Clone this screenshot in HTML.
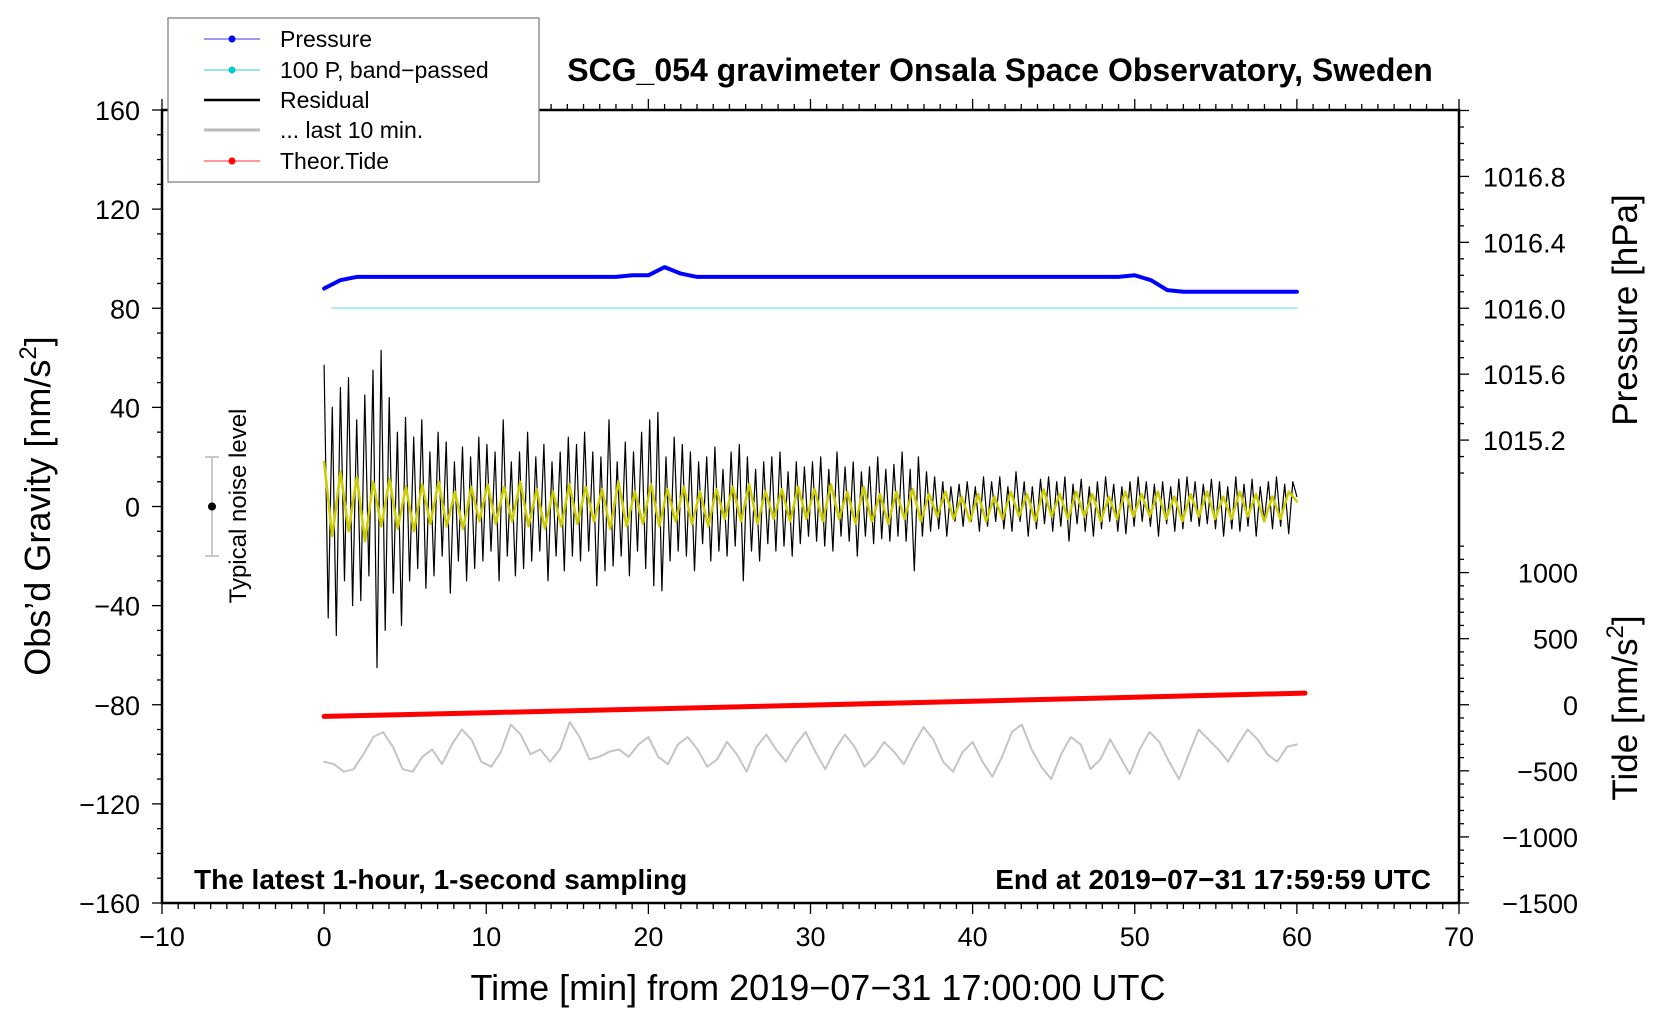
<!DOCTYPE html>
<html><head><meta charset="utf-8"><style>
html,body{margin:0;padding:0;background:#fff;}
svg{display:block;font-family:"Liberation Sans",sans-serif;}
</style></head><body>
<svg id="chart" width="1660" height="1020" viewBox="0 0 1660 1020" xmlns="http://www.w3.org/2000/svg">
<rect width="1660" height="1020" fill="#fff"/>
<g id="plot"></g>
<g id="axes"></g>
<text x="1000" y="81" font-size="32" font-weight="bold" text-anchor="middle">SCG_054 gravimeter Onsala Space Observatory, Sweden</text>
<text x="818" y="1000" font-size="36" text-anchor="middle">Time [min] from 2019−07−31 17:00:00 UTC</text>
<text transform="translate(50,506) rotate(-90)" font-size="36" text-anchor="middle">Obs’d Gravity [nm/s<tspan font-size="24" dy="-14">2</tspan><tspan dy="14">]</tspan></text>
<text transform="translate(1637,310) rotate(-90)" font-size="35" text-anchor="middle">Pressure [hPa]</text>
<text transform="translate(1637,708) rotate(-90)" font-size="35" text-anchor="middle">Tide [nm/s<tspan font-size="24" dy="-14">2</tspan><tspan dy="14">]</tspan></text>
<text x="194" y="889" font-size="28" font-weight="bold">The latest 1-hour, 1-second sampling</text>
<text x="1431" y="889" font-size="28" font-weight="bold" text-anchor="end">End at 2019−07−31 17:59:59 UTC</text>
<g>
<line x1="212" y1="457" x2="212" y2="556" stroke="#c8c8c8" stroke-width="2"/>
<line x1="205" y1="457" x2="219" y2="457" stroke="#c8c8c8" stroke-width="2"/>
<line x1="205" y1="556" x2="219" y2="556" stroke="#c8c8c8" stroke-width="2"/>
<circle cx="212" cy="506.5" r="4" fill="#000"/>
<text transform="translate(246,506) rotate(-90)" font-size="24" text-anchor="middle">Typical noise level</text>
</g>
<g>
<rect x="168" y="18" width="371" height="164" fill="#fff" stroke="#777" stroke-width="1.2"/>
<g><line x1="204" y1="39" x2="260" y2="39" stroke="#33f" stroke-width="1"/><circle cx="232" cy="39" r="3.5" fill="#00f"/><text x="280" y="47" font-size="23">Pressure</text></g>
<g><line x1="204" y1="70" x2="260" y2="70" stroke="#3cc" stroke-width="1"/><circle cx="232" cy="70" r="3.5" fill="#0cc"/><text x="280" y="78" font-size="23">100 P, band−passed</text></g>
<g><line x1="204" y1="100" x2="260" y2="100" stroke="#000" stroke-width="2.5"/><text x="280" y="108" font-size="23">Residual</text></g>
<g><line x1="204" y1="130" x2="260" y2="130" stroke="#bbb" stroke-width="3"/><text x="280" y="138" font-size="23">... last 10 min.</text></g>
<g><line x1="204" y1="161" x2="260" y2="161" stroke="#f33" stroke-width="1"/><circle cx="232" cy="161" r="3.5" fill="#f00"/><text x="280" y="169" font-size="23">Theor.Tide</text></g>
</g>
</svg>
<script>
const residual=[57,-45,40,-52,48,-30,52,-40,35,-38,45,-28,55,-65,63,-50,44,-35,30,-48,
36,-30,28,-25,35,-33,22,-28,30,-20,26,-35,18,-22,24,-30,20,-25,28,-22,
25,-18,22,-30,35,-20,18,-28,22,-25,30,-22,20,-18,25,-30,18,-20,22,-26,
28,-20,25,-22,30,-18,22,-32,20,-26,35,-24,18,-20,26,-28,22,-18,30,-25,
35,-32,38,-34,20,-22,28,-18,25,-20,22,-26,18,-15,20,-22,24,-18,15,-20,
22,-16,25,-30,20,-18,15,-22,18,-15,20,-18,22,-16,14,-20,18,-15,16,-12,
18,-14,20,-16,15,-18,22,-12,16,-14,18,-20,14,-12,16,-15,20,-13,15,-14,
17,-12,22,-14,15,-26,20,-12,14,-10,12,-9,10,-12,8,-6,9,-8,10,-6,
8,-10,12,-8,10,-6,12,-9,8,-10,14,-6,10,-12,8,-9,11,-7,12,-10,
10,-8,12,-14,9,-7,11,-10,8,-12,10,-9,12,-6,9,-10,8,-11,10,-8,
12,-6,10,-8,9,-12,10,-7,8,-10,11,-9,12,-6,10,-8,9,-7,11,-9,
10,-12,8,-9,12,-10,9,-8,11,-12,8,-6,10,-9,12,-8,9,-11,10,4];
const filtered=[18,-12,14,-10,12,-14,10,-8,11,-9,8,-10,9,-7,10,-8,6,-9,8,-6,
9,-7,8,-6,10,-8,7,-9,6,-8,9,-7,8,-6,7,-9,10,-8,6,-7,
9,-8,7,-6,8,-7,6,-8,7,-5,8,-6,9,-7,6,-5,7,-6,8,-5,
7,-6,9,-5,6,-7,8,-6,5,-7,6,-5,7,-6,5,-4,6,-5,4,-6,
5,-6,4,-5,6,-4,5,-6,7,-4,5,-5,6,-4,5,-6,4,-5,6,-4,
5,-4,6,-5,4,-6,5,-4,6,-5,4,-5,6,-4,5,-6,4,-5,6,2];
const last10=[-103,-104,-107,-106,-100,-93,-91,-97,-106,-107,-101,-98,-104,-96,-90,-94,-103,-105,-99,-88,-92,-100,-98,-103,-98,-87,-93,-102,-101,-99,-98,-101,-96,-93,-101,-104,-96,-93,-98,-105,-102,-95,-100,-107,-97,-92,-98,-103,-96,-91,-99,-106,-98,-92,-97,-105,-101,-95,-99,-104,-96,-89,-94,-103,-107,-99,-95,-103,-109,-101,-91,-88,-98,-105,-110,-100,-93,-96,-106,-102,-94,-101,-108,-98,-91,-95,-103,-110,-100,-90,-94,-98,-103,-96,-90,-94,-100,-103,-97,-96];
const pressure=[1016.12,1016.17,1016.19,1016.19,1016.19,1016.19,1016.19,1016.19,1016.19,1016.19,1016.19,1016.19,1016.19,1016.19,1016.19,1016.19,1016.19,1016.19,1016.19,1016.20,1016.20,1016.25,1016.21,1016.19,1016.19,1016.19,1016.19,1016.19,1016.19,1016.19,1016.19,1016.19,1016.19,1016.19,1016.19,1016.19,1016.19,1016.19,1016.19,1016.19,1016.19,1016.19,1016.19,1016.19,1016.19,1016.19,1016.19,1016.19,1016.19,1016.19,1016.20,1016.17,1016.11,1016.10,1016.10,1016.10,1016.10,1016.10,1016.10,1016.10,1016.10];
const bandpassed=[0,0,0,0,0,0,0,0,0,0,0,0,0];
const tideTimes=[0,10,20,30,40,50,60.5];
const tide=[-88,-60,-32,-3,27,57,88];
const xTicks=[-10,0,10,20,30,40,50,60,70];
const yTicks=[-160,-120,-80,-40,0,40,80,120,160];
const pTicks=[1015.2,1015.6,1016.0,1016.4,1016.8];
const tTicks=[-1500,-1000,-500,0,500,1000];

const NS="http://www.w3.org/2000/svg";
const L=162,R=1459,T=110,B=903;
const X=t=>L+(t+10)*(R-L)/80;
const Y=g=>506.5-g*(B-T)/320;
const PY=p=>Y(80+(p-1016.0)*66.5);
const TY=v=>Y(-80+v*80/1500);
const plot=document.getElementById('plot'),axes=document.getElementById('axes');
function mk(tag,attrs,parent){const e=document.createElementNS(NS,tag);for(const k in attrs)e.setAttribute(k,attrs[k]);parent.appendChild(e);return e;}
function line(vals,t0,t1,yf,stroke,w,name){
  const n=vals.length;let d='';
  vals.forEach((v,i)=>{const t=t0+(t1-t0)*i/(n-1);d+=(i?'L':'M')+X(t).toFixed(1)+','+yf(v).toFixed(1);});
  const p=mk('path',{d:d,fill:'none',stroke:stroke,'stroke-width':w,'stroke-linejoin':'round','stroke-linecap':'round'},plot);
  
  
}
line(bandpassed,0.5,60,v=>Y(80+v),'#aee8e8',2,'bandpassed-line');
line(pressure,0,60,PY,'#0000ff',4,'pressure-line');
line(residual,0,60,Y,'#000',1.2,'residual-line');
line(filtered,0,60,Y,'#cccc00',2.5,'filtered-residual-line');
line(last10,0,60,Y,'#c4c4c4',2,'last-10-min-line');
{let d='';tide.forEach((v,i)=>{d+=(i?'L':'M')+X(tideTimes[i]).toFixed(1)+','+TY(v).toFixed(1);});
const p=mk('path',{d:d,fill:'none',stroke:'#ff0000','stroke-width':5,'stroke-linecap':'round'},plot);

}

mk('rect',{x:L,y:T,width:R-L,height:B-T,fill:'none',stroke:'#000','stroke-width':2.5},axes);
for(let t=-10;t<=70;t++){const maj=t%10===0;const x=X(t);
 mk('line',{x1:x,y1:B,x2:x,y2:B+(maj?11:6),stroke:'#000','stroke-width':1.3},axes);
 mk('line',{x1:x,y1:T,x2:x,y2:T-(maj?11:6),stroke:'#000','stroke-width':1.3},axes);}
xTicks.forEach(t=>{const e=mk('text',{x:X(t),y:946,'font-size':27,'text-anchor':'middle'},axes);e.textContent=String(t).replace('-','−');
 
 });
for(let g=-160;g<=160;g+=10){const maj=g%40===0;const y=Y(g);
 mk('line',{x1:L,y1:y,x2:L-(maj?10:5),y2:y,stroke:'#000','stroke-width':1.3},axes);}
yTicks.forEach(g=>{const e=mk('text',{x:140,y:Y(g)+10,'font-size':27,'text-anchor':'end'},axes);e.textContent=String(g).replace('-','−');
 
 });
for(let p=1015.0;p<=1017.25;p+=0.1){const y=PY(p);if(y<T||y>PY(1015.0))continue;const maj=Math.abs(p*10-Math.round(p*10/4)*4)<0.01;
 mk('line',{x1:R,y1:y,x2:R+(maj?10:5),y2:y,stroke:'#000','stroke-width':1.3},axes);}
pTicks.forEach(p=>{const e=mk('text',{x:1483,y:PY(p)+10,'font-size':27},axes);e.textContent=p.toFixed(1);
 
 });
for(let v=-1500;v<=1300;v+=100){const y=TY(v);if(y<TY(1250))continue;const maj=v%500===0;
 mk('line',{x1:R,y1:y,x2:R+(maj?10:5),y2:y,stroke:'#000','stroke-width':1.3},axes);}
tTicks.forEach(v=>{const e=mk('text',{x:1578,y:TY(v)+10,'font-size':27,'text-anchor':'end'},axes);e.textContent=String(v).replace('-','−');
 
 });
</script>
</body></html>
